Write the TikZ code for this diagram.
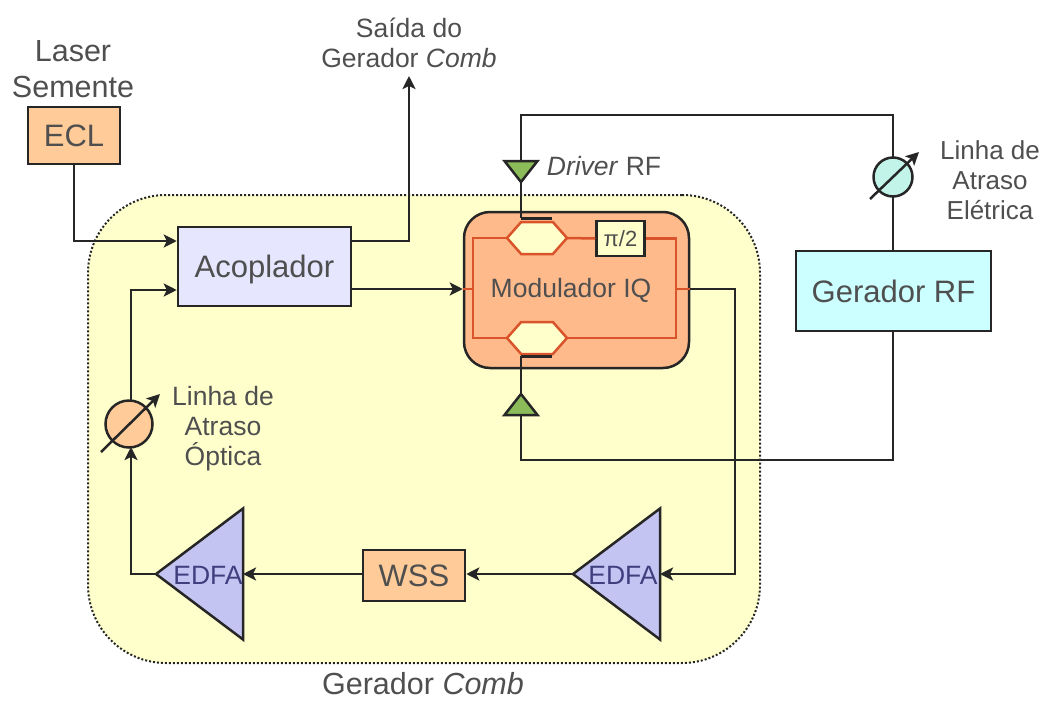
\documentclass[tikz,border=0pt]{standalone}
\usepackage{fontspec}
\setmainfont{Liberation Sans}
\usetikzlibrary{arrows.meta,shapes.geometric,shapes.symbols}
\definecolor{combyellow}{HTML}{FFFFCC}
\definecolor{laserorange}{HTML}{FFCC99}
\definecolor{modorange}{HTML}{FFBA8C}
\definecolor{acoplilac}{HTML}{E6E6FF}
\definecolor{edfablue}{HTML}{C4C4F2}
\definecolor{rfcyan}{HTML}{CCFFFF}
\definecolor{dlycyan}{HTML}{C2F4EA}
\definecolor{drvgreen}{HTML}{8CBB5A}
\definecolor{wgred}{HTML}{D9532B}
\definecolor{txtgray}{HTML}{4F4F4F}
\definecolor{edfatxt}{HTML}{3F3F80}
\tikzset{
  biglabel/.style={text=txtgray,font=\fontsize{31}{36}\selectfont,align=center,inner sep=0pt},
  smalllabel/.style={text=txtgray,font=\fontsize{26.5}{30}\selectfont,align=center,inner sep=0pt},
  blockbox/.style={draw=black!85,line width=2.5pt,inner sep=0pt,biglabel,text depth=0pt},
  amptri/.style={draw=black!85,line width=2.5pt,fill=edfablue,isosceles triangle,isosceles triangle stretches,shape border rotate=180,minimum height=87pt,minimum width=131pt,inner sep=0pt,outer sep=0pt,anchor=apex},
  drvtri/.style={draw=black!85,line width=2.5pt,fill=drvgreen,isosceles triangle,isosceles triangle stretches,minimum height=21pt,minimum width=33pt,inner sep=0pt,outer sep=0pt,anchor=apex},
  hexwg/.style={draw=wgred,line width=2.5pt,fill=combyellow,signal,signal to=east and west,signal pointer angle=97,minimum width=60pt,minimum height=32pt,inner sep=0pt,outer sep=0pt},
  delaycirc/.style={draw=black!85,line width=2.5pt,circle,inner sep=0pt,outer sep=0pt},
  conn/.style={draw=black!85,line width=2.5pt},
  wg/.style={draw=wgred,line width=2.5pt},
  elec/.style={draw=black!85,line width=3pt}
}
\begin{document}
\begin{tikzpicture}[x=1pt,y=-1pt,>={Stealth[length=13pt,width=13pt,inset=3pt]}]
    \useasboundingbox (0,0) rectangle (1045,702);
    % region of the comb generator
    \node (comb) at (424,429) [draw=black!85,dash pattern=on 2pt off 2pt,line width=2pt,fill=combyellow,rounded corners=78pt,minimum width=672pt,minimum height=468pt] {};
    \node (combtxt) at (423,684) [biglabel,font=\fontsize{30.5}{36}\selectfont] {Gerador \textit{Comb}};

    % blocks
    \node (ecl) at (74,135.5) [blockbox,fill=laserorange,minimum width=92pt,minimum height=57pt] {ECL};
    \node (lasertxt) at (73,69) [biglabel,font=\fontsize{30.5}{36}\selectfont] {Laser\\Semente};
    \node (acop) at (264.5,266.5) [blockbox,fill=acoplilac,minimum width=173pt,minimum height=79pt] {Acoplador};
    \node (mod) at (576.5,290) [draw=black!85,line width=2.5pt,fill=modorange,rounded corners=26pt,minimum width=225pt,minimum height=156pt] {};
    \node (wss) at (414,575.5) [blockbox,fill=laserorange,minimum width=102pt,minimum height=51pt] {WSS};
    \node (rfgen) at (893.5,291) [blockbox,fill=rfcyan,minimum width=195pt,minimum height=80pt] {Gerador RF};
    \node (saida) at (409,43) [smalllabel] {Saída do\\Gerador \textit{Comb}};
    \coordinate (saidaend) at (409,76);

    % amplifiers
    \node (edfaa) at (573,574) [amptri] {};
    \node (edfab) at (156,574) [amptri] {};
    \node (edfaatxt) at (623,575) [smalllabel,text=edfatxt] {EDFA};
    \node (edfabtxt) at (208,575) [smalllabel,text=edfatxt] {EDFA};

    % delay lines
    \node (dlyo) at (129,424) [delaycirc,fill=laserorange,minimum size=47pt] {};
    \node (dlyotxt) at (223,429) [smalllabel] {Linha de\\Atraso\\Óptica};
    \node (dlye) at (893,177) [delaycirc,fill=dlycyan,minimum size=39pt] {};
    \node (dlyetxt) at (990,180) [smalllabel,font=\fontsize{26}{30}\selectfont] {Linha de\\Atraso\\Elétrica};
    \coordinate (dlyoa) at (101,452);
    \coordinate (dlyob) at (160,394);
    \coordinate (dlyea) at (870,199);
    \coordinate (dlyeb) at (919,152);

    % inside of the modulator
    \node (hexi) at (537,238) [hexwg] {};
    \node (hexq) at (537,338) [hexwg] {};
    \node (pi2) at (620.5,238.5) [draw=black!85,line width=2.5pt,fill=combyellow,minimum width=48pt,minimum height=35pt,inner sep=0pt,text=black!70,font=\fontsize{22}{24}\selectfont] {π/2};
    \node (modtxt) at (571,288) [biglabel,font=\fontsize{26.5}{30}\selectfont,text depth=0pt] {Modulador IQ};
    \coordinate (wgin) at (473,289);
    \coordinate (wgout) at (676,289);
    \draw[wg] (hexi.west) -| (wgin) |- (hexq.west);
    \draw[wg] (hexi.east) -- (pi2.west);
    \draw[wg] (pi2.east) -| (wgout) |- (hexq.east);
    \draw[wg] (mod.west |- wgin) -- (wgin);
    \draw[wg] (wgout) -- (mod.east |- wgout);

    % drivers
    \node (drvi) at (521,182) [drvtri,shape border rotate=270] {};
    \node (drvq) at (521,394) [drvtri,shape border rotate=90] {};
    \node (drvtxt) at (604,166) [smalllabel] {\textit{Driver} RF};
    \coordinate (eleci) at (521,218);
    \coordinate (elecie) at (552,218);
    \coordinate (elecq) at (521,356);
    \coordinate (elecqe) at (552,356);
    \draw[elec] (eleci) -- (elecie);
    \draw[elec] (elecq) -- (elecqe);
    \draw[conn] (drvi.apex) -- (eleci);
    \draw[conn] (drvq.apex) -- (elecq);

    % connectors
    \draw[conn,->] (ecl.south) |- (acop.west |- 0,241);
    \draw[conn,->] (acop.east |- 0,241) -| (saidaend);
    \draw[conn,->] (acop.east |- 0,289) -- (mod.west |- 0,289);
    \draw[conn,->] (mod.east |- 0,289) -- (735,289) |- (edfaa.lower side);
    \draw[conn,->] (edfaa.apex) -- (wss.east |- edfaa.apex);
    \draw[conn,->] (wss.west |- edfaa.apex) -- (edfab.lower side);
    \draw[conn,->] (edfab.apex) -| (131,447);
    \draw[conn,->] (131,401) |- (acop.west |- 0,290);
    \draw[conn] (drvi.lower side) |- (893,115) -- (dlye.north);
    \draw[conn] (dlye.south) -- (rfgen.north -| dlye.south);
    \draw[conn] (rfgen.south -| dlye.south) -- (893,460) -| (drvq.lower side);

    % tuning arrows of the delay lines
    \draw[conn,->] (dlyoa) -- (dlyob);
    \draw[conn,->] (dlyea) -- (dlyeb);
  \end{tikzpicture}
\end{document}
